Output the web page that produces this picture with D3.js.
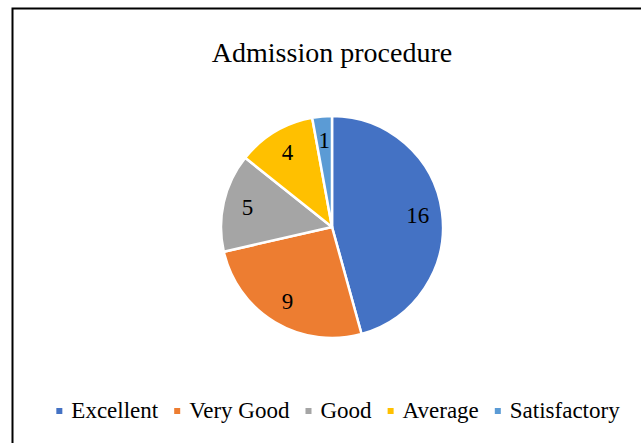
<!DOCTYPE html>
<meta charset="utf-8">
<head>
  <title>Admission procedure</title>
  <style>
    body { margin: 0; background: #fff; }
    svg { display: block; }
    text { font-family: "Liberation Serif", "Times New Roman", serif; }
  </style>
</head>
<body>
  <script src="https://d3js.org/d3.v7.min.js"></script>
  <div id="chart"></div>
  <script>
    // chart data
    var categories = ["Excellent", "Very Good", "Good", "Average", "Satisfactory"];
    var values = [16, 9, 5, 4, 1];
    var colors = ["#4472C4", "#ED7D31", "#A5A5A5", "#FFC000", "#5B9BD5"];

    var width = 641, height = 443;
    var cx = 332, cy = 227, radius = 111;
    var serif = "'Liberation Serif', 'Times New Roman', serif";

    var svg = d3.select("#chart")
      .append("svg")
        .attr("width", width)
        .attr("height", height);

    // outer frame (runs off the right and bottom)
    svg.append("rect")
      .attr("x", 12.5).attr("y", 8.5)
      .attr("width", width).attr("height", height)
      .attr("fill", "none")
      .attr("stroke", "#000")
      .attr("stroke-width", 2);

    svg.append("text")
      .attr("x", cx)
      .attr("y", 62)
      .attr("text-anchor", "middle")
      .attr("font-family", serif)
      .attr("font-size", 28)
      .text("Admission procedure");

    var color = d3.scaleOrdinal().domain(categories).range(colors);

    var pie = d3.pie()
      .sort(null)
      .value(function(d) { return d.value; });

    var data = categories.map(function(c, i) { return {name: c, value: values[i]}; });
    var arcs = pie(data);

    var arc = d3.arc().innerRadius(0).outerRadius(radius);
    var labelArc = d3.arc().innerRadius(radius * 0.78).outerRadius(radius * 0.78);

    var g = svg.append("g")
      .attr("transform", "translate(" + cx + "," + cy + ")");

    g.selectAll("path")
      .data(arcs)
      .enter()
      .append("path")
        .attr("d", arc)
        .attr("fill", function(d) { return color(d.data.name); })
        .attr("stroke", "#fff")
        .attr("stroke-width", 2.5)
        .attr("stroke-linejoin", "round");

    g.selectAll("text")
      .data(arcs)
      .enter()
      .append("text")
        .attr("transform", function(d) { return "translate(" + labelArc.centroid(d) + ")"; })
        .attr("text-anchor", "middle")
        .attr("dy", "0.33em")
        .attr("font-family", serif)
        .attr("font-size", 23)
        .text(function(d) { return d.data.value; });

    // legend, laid out from measured text widths and centred
    var legend = svg.append("g");
    var x = 0, box = 6, gapText = 9, gapItem = 16;
    categories.forEach(function(c) {
      var item = legend.append("g").attr("transform", "translate(" + x + ",0)");
      item.append("rect")
        .attr("x", 0).attr("y", -3)
        .attr("width", box).attr("height", box)
        .attr("fill", color(c));
      var t = item.append("text")
        .attr("x", box + gapText)
        .attr("dy", "0.32em")
        .attr("font-family", serif)
        .attr("font-size", 23)
        .text(c);
      x += box + gapText + t.node().getComputedTextLength() + gapItem;
    });
    var total = x - gapItem;
    legend.attr("transform", "translate(" + (338 - total / 2) + ",411)");
  </script>
</body>
